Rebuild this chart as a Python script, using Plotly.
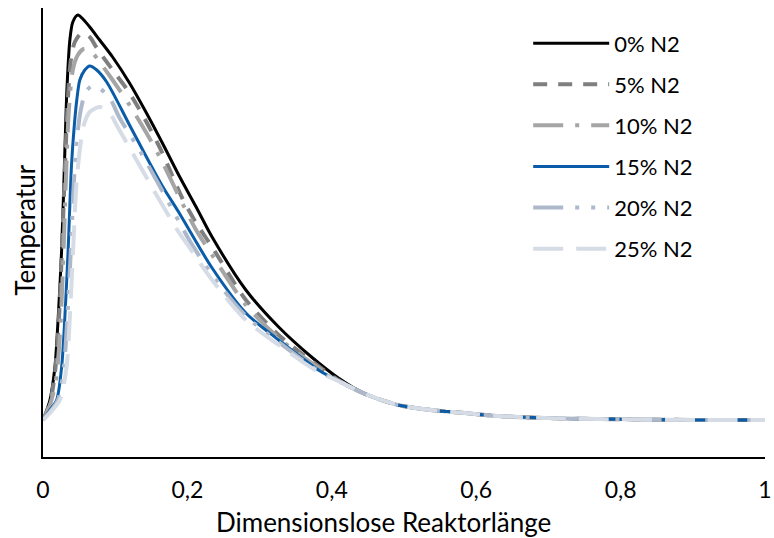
import plotly.graph_objects as go

# Shared tail (all curves converge)
tail_x = [0.4463, 0.4917, 0.5372, 0.5840, 0.6295, 0.6942, 0.7672, 0.9050, 1.0]
tail_y = [63, 52, 47, 44, 41, 39, 38, 37, 37]

x_0 = [0, 0.0096, 0.0165, 0.0211, 0.0258, 0.0303, 0.0331, 0.0372, 0.0413, 0.0482, 0.0565, 0.0647,
       0.0785, 0.0964, 0.1198, 0.1433, 0.1653, 0.1887, 0.2121, 0.2342, 0.2810, 0.3264, 0.3719, 0.4091]
y_0 = [37, 57, 90, 140, 207, 307, 367, 417, 435, 442, 437, 430,
       417, 400, 374, 344, 314, 281, 250, 220, 167, 130, 100, 79]

x_5 = [0, 0.0096, 0.0165, 0.0220, 0.0262, 0.0303, 0.0344, 0.0386, 0.0441, 0.0537, 0.0647, 0.0744,
       0.0964, 0.1198, 0.1433, 0.1653, 0.1928, 0.2121, 0.2342, 0.2810, 0.3264, 0.3719, 0.4091]
y_5 = [37, 54, 84, 137, 207, 287, 357, 397, 415, 424, 420, 409,
       387, 364, 335, 304, 259, 234, 210, 157, 122, 96, 77]

x_10 = [0, 0.0096, 0.0179, 0.0234, 0.0275, 0.0317, 0.0358, 0.0413, 0.0482, 0.0565, 0.0647, 0.0785,
        0.0964, 0.1198, 0.1433, 0.1653, 0.1887, 0.2121, 0.2342, 0.2810, 0.3264, 0.3719, 0.4091]
y_10 = [37, 52, 77, 122, 187, 277, 347, 387, 402, 408, 407, 395,
        377, 352, 324, 295, 260, 227, 202, 152, 119, 94, 76]

x_15 = [0, 0.0096, 0.0189, 0.0258, 0.0303, 0.0348, 0.0395, 0.0434, 0.0468, 0.0510, 0.0579, 0.0647,
        0.0744, 0.0882, 0.1198, 0.1433, 0.1653, 0.1887, 0.2025, 0.2342, 0.2810, 0.3264, 0.3815, 0.4091]
y_15 = [37, 47, 57, 90, 140, 207, 292, 332, 357, 377, 387, 391,
        387, 375, 332, 300, 271, 244, 227, 189, 144, 117, 87, 76]

x_20 = [0, 0.0096, 0.0207, 0.0289, 0.0337, 0.0386, 0.0427, 0.0468, 0.0523, 0.0592, 0.0675, 0.0758,
        0.0923, 0.1061, 0.1336, 0.1570, 0.1887, 0.2025, 0.2342, 0.2810, 0.3264, 0.3815, 0.4091]
y_20 = [37, 45, 57, 90, 140, 207, 274, 317, 347, 365, 371, 370,
        359, 339, 307, 277, 235, 217, 182, 141, 115, 86, 76]

x_25 = [0, 0.0096, 0.0234, 0.0326, 0.0372, 0.0417, 0.0464, 0.0510, 0.0565, 0.0647, 0.0785, 0.0923,
        0.1019, 0.1295, 0.1612, 0.1887, 0.2025, 0.2342, 0.2810, 0.3264, 0.3815, 0.4091]
y_25 = [37, 44, 57, 90, 140, 207, 274, 307, 332, 345, 350, 344,
        332, 297, 257, 224, 210, 177, 137, 112, 85, 76]

names = ["0% N2", "5% N2", "10% N2", "15% N2", "20% N2", "25% N2"]
xs = [x_0, x_5, x_10, x_15, x_20, x_25]
ys = [y_0, y_5, y_10, y_15, y_20, y_25]
colors = ["#000000", "#7f7f7f", "#a5a5a5", "#0a5ca8", "#adb9ca", "#d6dce5"]
dashes = ["solid", "14px,11px", "30px,12px,4px,12px", "solid",
          "30px,12px,4px,12px,4px,12px", "30px,13px"]
widths = [3, 4, 4, 3, 4, 4]

x_ticks = [0, 0.2, 0.4, 0.6, 0.8, 1]
x_title = "Dimensionslose Reaktorlänge"
y_title = "Temperatur"

FONT = "Lato, Calibri, Arial, sans-serif"

fig = go.Figure()
for i in range(len(names)):
    fig.add_trace(go.Scatter(
        x=xs[i] + tail_x, y=ys[i] + tail_y, mode="lines", name=names[i],
        legendgroup=names[i],
        line=dict(color=colors[i], width=widths[i], dash=dashes[i], shape="spline", smoothing=0.8),
    ))

fig.update_layout(
    width=774, height=538,
    margin=dict(l=43, r=9, t=8, b=81),
    paper_bgcolor="white", plot_bgcolor="white",
    separators=",.",
    font=dict(family=FONT, size=23, color="#000000"),
    showlegend=True,
    legend=dict(x=0.672, y=0.968, xanchor="left", yanchor="top",
                bgcolor="rgba(0,0,0,0)", font=dict(size=22, family=FONT),
                tracegroupgap=9.5, itemwidth=76),
    xaxis=dict(range=[0, 1], tickvals=x_ticks, showgrid=False, zeroline=False,
               showline=True, linecolor="#000000", linewidth=2, automargin=False,
               ticks="outside", ticklen=11, tickcolor="rgba(0,0,0,0)",
               ticklabeloverflow="allow",
               tickfont=dict(size=23, family=FONT)),
    yaxis=dict(range=[0, 449], showgrid=False, zeroline=False, showticklabels=False,
               showline=True, linecolor="#000000", linewidth=1.5, ticks="", automargin=False),
    annotations=[
        dict(text=x_title, xref="paper", yref="paper", x=0.472, y=-0.145,
             xanchor="center", yanchor="middle", showarrow=False,
             font=dict(size=26, family=FONT, color="#000000")),
        dict(text=y_title, xref="paper", yref="paper", x=-0.025, y=0.506,
             xanchor="center", yanchor="middle", showarrow=False, textangle=-90,
             font=dict(size=26, family=FONT, color="#000000")),
    ],
)

fig.write_html("out.html")
